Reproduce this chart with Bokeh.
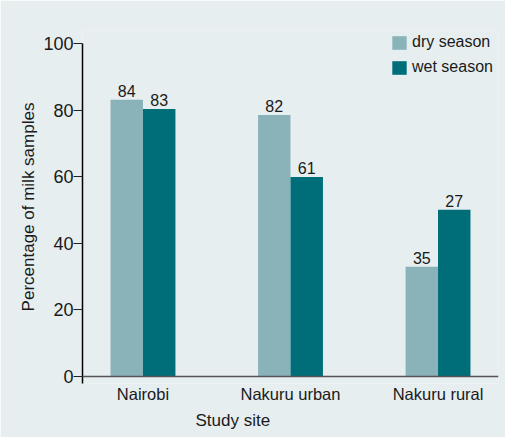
from bokeh.plotting import figure
from bokeh.models import ColumnDataSource, FactorRange, Range1d, Span, Legend, LegendItem, LabelSet, Title
from bokeh.core.properties import value
from bokeh.transform import dodge
from bokeh.embed import file_html
from bokeh.resources import INLINE

sites = ["Nairobi", "Nakuru urban", "Nakuru rural"]
dry_season = [83.2, 78.6, 33.0]
wet_season = [80.4, 60.0, 50.1]
dry_labels = ["84", "82", "35"]
wet_labels = ["83", "61", "27"]
y_ticks = [0, 20, 40, 60, 80, 100]

FONT = "Liberation Sans"
BG = "#e6eef0"
DRY = "#8ab3b9"
WET = "#006e78"
TXT = "#1a1a1a"

src = ColumnDataSource(dict(site=sites, dry=dry_season, wet=wet_season,
                            dry_lab=dry_labels, wet_lab=wet_labels))

p = figure(x_range=FactorRange(*sites, range_padding=-0.06), y_range=Range1d(-2.1, 104),
           width=505, height=437, output_backend="svg", toolbar_location=None,
           background_fill_color=BG, border_fill_color=BG,
           min_border_left=82, min_border_right=7, min_border_top=30, min_border_bottom=54)
p.outline_line_color = None
p.grid.visible = False

bw = 0.22
r_dry = p.vbar(x=dodge("site", -bw / 2, range=p.x_range), top="dry", width=bw, source=src,
               fill_color=DRY, line_color=None)
r_wet = p.vbar(x=dodge("site", bw / 2, range=p.x_range), top="wet", width=bw, source=src,
               fill_color=WET, line_color=None)

for col, lab, off in (("dry", "dry_lab", -bw / 2), ("wet", "wet_lab", bw / 2)):
    ls = LabelSet(x=dodge("site", off, range=p.x_range), y=col, text=lab, source=src,
                  text_align="center", text_baseline="bottom", y_offset=3,
                  text_font=value(FONT), text_font_size=value("16px"), text_color=TXT)
    p.add_layout(ls)

p.add_layout(Span(location=0, dimension="width", line_color="#555555", line_width=1.5))

ya = p.yaxis[0]
ya.ticker = y_ticks
ya.bounds = (-2.1, 100)
ya.axis_line_color = "black"
ya.axis_line_width = 1.5
ya.major_tick_out = 9
ya.major_tick_in = 0
ya.minor_tick_line_color = None
ya.major_tick_line_color = "#222222"
ya.major_label_standoff = 0
ya.major_label_text_font = FONT
ya.major_label_text_font_size = "18px"
ya.major_label_text_color = TXT
ya.axis_label = "Percentage of milk samples"
ya.axis_label_text_font = FONT
ya.axis_label_text_font_size = "17px"
ya.axis_label_text_font_style = "normal"
ya.axis_label_text_color = TXT
ya.axis_label_standoff = 2

xa = p.xaxis[0]
xa.axis_line_color = None
xa.major_tick_line_color = None
xa.major_tick_out = 0
xa.major_tick_in = 0
xa.minor_tick_line_color = None
xa.major_label_standoff = 1
xa.major_label_text_font = FONT
xa.major_label_text_font_size = "16.5px"
xa.major_label_text_color = TXT

p.add_layout(Title(text="Study site", align="left", offset=113, standoff=6,
                   text_font=FONT, text_font_size="17px", text_font_style="normal",
                   text_color=TXT), "below")

legend = Legend(items=[LegendItem(label="dry season", renderers=[r_dry]),
                       LegendItem(label="wet season", renderers=[r_wet])],
                location=(308, 307), padding=0, margin=0, spacing=7,
                glyph_width=18, glyph_height=17, label_height=17,
                label_standoff=4, border_line_color=None, background_fill_alpha=0,
                label_text_font=FONT, label_text_font_size="16px",
                label_text_color=TXT)
p.add_layout(legend, "center")

open("out.html", "w").write(file_html(p, INLINE))
